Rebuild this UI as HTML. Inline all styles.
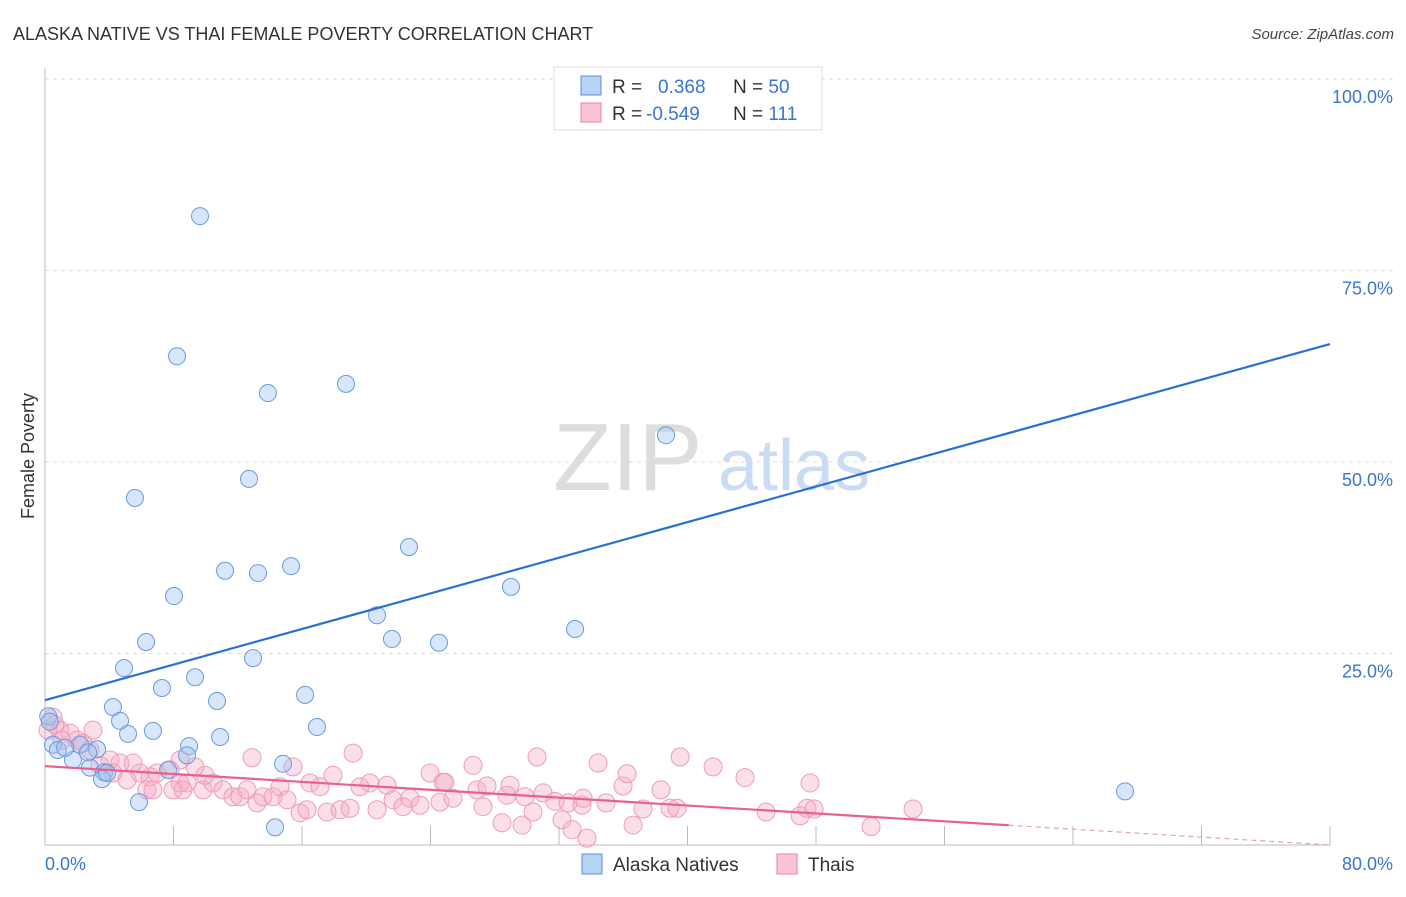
<!DOCTYPE html>
<html><head><meta charset="utf-8"><style>
body{margin:0;background:#fff;font-family:"Liberation Sans",sans-serif}
svg text{font-family:"Liberation Sans",sans-serif}
</style></head><body>
<svg id="c" width="1406" height="892">
<text x="13" y="40" font-size="18" fill="#333">ALASKA NATIVE VS THAI FEMALE POVERTY CORRELATION CHART</text>
<text x="1394" y="39" font-size="15" font-style="italic" fill="#444" text-anchor="end">Source: ZipAtlas.com</text>
<text x="34" y="456" font-size="18" fill="#333" text-anchor="middle" transform="rotate(-90 34 456)">Female Poverty</text>
<g><text x="553" y="490" font-size="96" font-family="Liberation Serif,serif" fill="#ddd">ZIP</text><text x="718" y="490" font-size="72" fill="#c9dcf3">atlas</text></g>
<g id="grid"></g><g id="pts"></g><g id="lines"></g>
<g>
<rect x="554" y="67" width="268" height="63" fill="#fff" stroke="#ddd"/>
<rect x="581" y="76" width="20" height="19" fill="#b9d3f4" stroke="#5b8fd9"/>
<rect x="581" y="103" width="20" height="19" fill="#f9c5d5" stroke="#e87fa0"/>
<text x="612" y="93" font-size="19" fill="#333">R = <tspan fill="#3a75d0" x="658">0.368</tspan><tspan fill="#333" x="733">N = </tspan><tspan fill="#3a75d0">50</tspan></text>
<text x="612" y="120" font-size="19" fill="#333">R = <tspan fill="#3a75d0" x="646">-0.549</tspan><tspan fill="#333" x="733">N = </tspan><tspan fill="#3a75d0">111</tspan></text>
</g>
<g>
<rect x="582" y="854" width="20" height="20" fill="#b9d3f4" stroke="#5b8fd9"/>
<text x="613" y="871" font-size="19" fill="#333">Alaska Natives</text>
<rect x="777" y="854" width="20" height="20" fill="#f9c5d5" stroke="#e87fa0"/>
<text x="808" y="871" font-size="19" fill="#333">Thais</text>
</g>
</svg>
<script>
const yTicks=[25,50,75,100];
const xTickLabels=["0.0%","80.0%"];
const alaskaX=[9.65,8.22,13.88,18.74,38.66,5.60,12.70,22.66,11.21,13.26,15.32,8.03,29.01,20.67,21.60,24.53,33.0,6.29,12.95,4.92,7.28,9.34,10.71,16.19,4.23,4.67,6.72,5.17,16.93,10.90,8.97,8.84,0.5,0.8,3.24,1.74,2.80,3.67,3.55,7.66,5.85,14.32,67.24,14.82,0.2,0.3,2.18,1.25,2.68,3.86];
const alaskaY=[82.1,63.8,59.0,60.2,53.5,45.3,47.8,38.9,35.8,35.5,36.4,32.5,33.7,30.0,26.9,26.4,28.2,26.5,24.4,23.1,20.5,21.9,18.8,19.6,18.0,16.2,14.9,14.5,15.4,14.1,12.9,11.7,13.1,12.4,12.5,11.1,10.1,9.5,8.6,9.8,5.6,2.3,7.0,10.6,16.8,16.1,13.1,12.7,12.1,9.4];
const thaiX=[0.50,0.93,1.56,2.99,1.99,2.37,2.80,4.05,4.67,5.48,4.23,5.11,5.91,6.54,6.97,7.78,8.41,9.34,8.84,7.97,6.35,6.72,8.59,9.84,10.46,11.08,11.70,12.14,12.58,13.20,13.57,14.20,14.63,15.07,15.44,12.89,19.18,16.50,17.12,17.93,19.61,20.23,21.29,15.88,16.31,17.56,18.37,18.99,20.67,21.67,22.29,22.72,23.35,23.97,24.78,24.59,25.40,24.90,26.65,26.90,27.52,27.27,28.45,28.95,28.76,29.70,29.88,30.38,30.63,31.01,31.75,32.19,32.56,32.81,33.43,33.50,33.74,34.43,34.93,35.99,36.24,36.61,37.23,38.35,38.91,39.35,39.54,41.59,43.58,44.89,47.01,47.44,47.63,47.88,51.43,54.04,0.19,0.62,1.06,3.42,8.41,9.96];
const thaiY=[16.7,15.0,14.6,15.0,13.7,13.3,12.4,11.1,10.7,10.7,9.4,8.5,9.4,8.9,9.4,9.8,8.1,10.2,8.1,7.2,7.2,7.2,7.2,7.2,8.1,7.2,6.3,6.3,7.2,5.5,6.3,6.3,7.6,5.9,10.2,11.4,12.0,8.1,7.6,9.1,7.6,8.1,7.8,4.2,4.6,4.3,4.6,4.8,4.6,5.9,5.0,6.1,5.2,9.4,8.2,5.6,6.1,8.2,10.4,7.2,7.7,5.0,2.9,7.8,6.5,2.6,6.3,4.3,11.5,6.8,5.7,3.3,5.5,2.0,5.2,6.1,0.9,10.7,5.5,7.7,9.3,2.6,4.7,7.2,4.8,4.8,11.5,10.2,8.8,4.3,3.8,4.8,8.1,4.7,2.4,4.7,15.0,15.7,13.7,10.4,11.1,9.1];
const alaskaTrend=[18.9,65.4];
const thaiTrend=[10.3,0.0];
const thaiTrendEnd=60;
const NS='http://www.w3.org/2000/svg';
const X=v=>45+v/80*1285, Y=v=>845-v/100*766;
function mk(t,p,a){const e=document.createElementNS(NS,t);for(const k in a)e.setAttribute(k,a[k]);p.appendChild(e);return e;}
const g=document.getElementById('grid');
yTicks.forEach(t=>{
 const l=mk('line',g,{x1:45,x2:1393,y1:Y(t),y2:Y(t),stroke:'#ddd','stroke-dasharray':'4,4'});
 
 
 const tx=mk('text',g,{x:1393,y:Y(t)+24,'font-size':18,fill:'#3a75d0','text-anchor':'end'});
 tx.textContent=t.toFixed(1)+'%';
 
 
});
const ax=mk('line',g,{x1:45,x2:45,y1:68,y2:845,stroke:'#bbb'});


const bx=mk('line',g,{x1:45,x2:1330,y1:845,y2:845,stroke:'#bbb'});


for(let i=1;i<=10;i++){const tk=mk('line',g,{x1:X(i*8),x2:X(i*8),y1:826,y2:845,stroke:'#bbb'});
 
 }
const xl0=mk('text',g,{x:45,y:870,'font-size':18,fill:'#3a75d0'});xl0.textContent=xTickLabels[0];


const xl1=mk('text',g,{x:1393,y:870,'font-size':18,fill:'#3a75d0','text-anchor':'end'});xl1.textContent=xTickLabels[1];


const p=document.getElementById('pts');
thaiX.forEach((v,i)=>{const c=mk('circle',p,{cx:X(v),cy:Y(thaiY[i]),r:9,fill:'rgba(245,170,195,0.38)',stroke:'#ee9cb8','stroke-width':1});
 
 });
alaskaX.forEach((v,i)=>{const c=mk('circle',p,{cx:X(v),cy:Y(alaskaY[i]),r:8.5,fill:'rgba(160,195,240,0.42)',stroke:'#6a9ade','stroke-width':1});
 
 });
const L=document.getElementById('lines');
const bl=mk('line',L,{x1:X(0),y1:Y(alaskaTrend[0]),x2:X(80),y2:Y(alaskaTrend[1]),stroke:'#2a6fd6','stroke-width':2.2});


const slope=(thaiTrend[1]-thaiTrend[0])/80;
const pl=mk('line',L,{x1:X(0),y1:Y(thaiTrend[0]),x2:X(thaiTrendEnd),y2:Y(thaiTrend[0]+slope*thaiTrendEnd),stroke:'#e8608e','stroke-width':2.2});


const pd=mk('line',L,{x1:X(thaiTrendEnd),y1:Y(thaiTrend[0]+slope*thaiTrendEnd),x2:X(80),y2:Y(thaiTrend[1]),stroke:'#e8a0b8','stroke-width':1.2,'stroke-dasharray':'5,4'});


</script>
</body></html>
